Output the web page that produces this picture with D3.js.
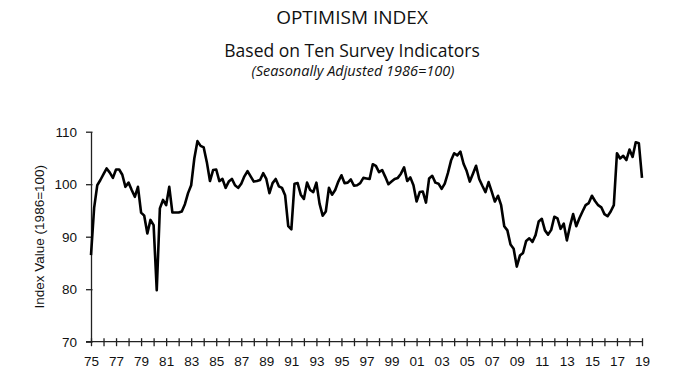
<!DOCTYPE html>
<html>
<head>
<meta charset="utf-8">
<script src="https://cdn.jsdelivr.net/npm/d3@7"></script>
<style>
  body { margin: 0; background: #fff; }
  .title { font-family: "Open Sans", sans-serif; fill: #111; }
  .axis text { font-family: "Liberation Sans", Arial, sans-serif; font-size: 13.5px; fill: #111; }
  .axis path, .axis line { stroke: #222; stroke-width: 1.3; }
</style>
</head>
<body>
<svg id="chart"></svg>
<script>
// quarterly values, first point is 1975 Q1, last is 2019 Q1
const startYear = 1975
const optimism = [
  86.5, 95.5, 99.8, 100.8,     // 1975
  101.9, 103.0, 102.2, 101.2,  // 1976
  102.8, 102.8, 101.8, 99.5,   // 1977
  100.3, 98.9, 97.6, 99.5,     // 1978
  94.6, 94.0, 90.6, 93.2,      // 1979
  92.2, 79.8, 95.4, 97.0,      // 1980
  96.0, 99.5, 94.6, 94.6,      // 1981
  94.6, 94.8, 96.2, 98.3,      // 1982
  99.8, 104.9, 108.2, 107.3,   // 1983
  107.0, 104.2, 100.6, 102.7,  // 1984
  102.8, 100.6, 101.0, 99.3,   // 1985
  100.5, 101.0, 99.8, 99.3,    // 1986
  100.1, 101.5, 102.5, 101.5,  // 1987
  100.5, 100.6, 100.8, 102.1,  // 1988
  101.0, 98.3, 100.2, 101.0,   // 1989
  99.6, 99.3, 97.9, 92.0,      // 1990
  91.4, 100.1, 100.2, 98.0,    // 1991
  97.2, 100.3, 98.9, 98.5,     // 1992
  100.3, 96.3, 94.0, 94.8,     // 1993
  99.3, 98.0, 98.9, 100.5,     // 1994
  101.7, 100.2, 100.3, 100.9,  // 1995
  99.7, 99.8, 100.2, 101.2,    // 1996
  101.1, 101.0, 103.8, 103.5,  // 1997
  102.3, 102.7, 101.4, 100.0,  // 1998
  100.5, 101.0, 101.2, 102.0,  // 1999
  103.2, 100.6, 101.3, 99.8,   // 2000
  96.7, 98.5, 98.6, 96.5,      // 2001
  101.1, 101.6, 100.3, 100.1,  // 2002
  99.1, 100.1, 102.1, 104.5,   // 2003
  105.9, 105.5, 106.2, 103.9,  // 2004
  102.5, 100.5, 102.0, 103.5,  // 2005
  101.0, 99.7, 98.5, 100.4,    // 2006
  98.6, 96.7, 97.8, 96.0,      // 2007
  92.0, 91.2, 88.5, 87.7,      // 2008
  84.3, 86.4, 86.9, 89.2,      // 2009
  89.7, 89.0, 90.3, 92.9,      // 2010
  93.4, 91.2, 90.4, 91.3,      // 2011
  93.8, 93.5, 91.5, 92.5,      // 2012
  89.3, 92.0, 94.3, 92.0,      // 2013
  93.5, 94.8, 96.0, 96.4,      // 2014
  97.8, 96.8, 96.0, 95.6,      // 2015
  94.3, 93.9, 94.8, 96.0,      // 2016
  105.9, 104.9, 105.4, 104.6,  // 2017
  106.6, 105.2, 108.0, 107.8,  // 2018
  101.2                        // 2019
]
const yearTicks = d3.range(1975, 2020)          // a tick every year
const yearLabels = d3.range(1975, 2020, 2)      // label every other year
const valueTicks = [70, 80, 90, 100, 110]

const width = 680
const height = 375

const svg = d3.select("#chart")
  .attr("width", width)
  .attr("height", height)

// titles
svg.append("text").attr("class", "title")
  .attr("x", 352).attr("y", 24)
  .attr("text-anchor", "middle")
  .style("font-size", "19px")
  .text("OPTIMISM INDEX")
svg.append("text").attr("class", "title")
  .attr("x", 352).attr("y", 57)
  .attr("text-anchor", "middle")
  .style("font-size", "17.5px")
  .text("Based on Ten Survey Indicators")
svg.append("text").attr("class", "title")
  .attr("x", 353).attr("y", 76)
  .attr("text-anchor", "middle")
  .style("font-size", "14.5px")
  .style("font-style", "italic")
  .text("(Seasonally Adjusted 1986=100)")

let xScale = d3.scaleLinear()
  .domain([1975, 2019])
  .range([91, 642])

let yScale = d3.scaleLinear()
  .domain([70, 110])
  .range([341.7, 131.7])

// x axis: ticks cross the line
let xAxis = svg.append("g")
  .attr("class", "axis")
  .attr("transform", "translate(0," + yScale(70) + ")")
  .call(d3.axisBottom(xScale)
    .tickValues(yearTicks)
    .tickSize(4)
    .tickSizeOuter(0)
    .tickFormat(d => yearLabels.includes(d) ? String(d).slice(2) : ""))
xAxis.select(".domain").attr("d", "M" + (xScale(1975) - 5) + ",0H" + xScale(2019))
xAxis.selectAll(".tick line").attr("y1", -3.5).attr("y2", 4.5)
xAxis.selectAll(".tick text").attr("y", 14.5)

// y axis
let yAxis = svg.append("g")
  .attr("class", "axis")
  .attr("transform", "translate(" + xScale(1975) + ",0)")
  .call(d3.axisLeft(yScale)
    .tickValues(valueTicks)
    .tickSize(5)
    .tickSizeOuter(0))
yAxis.selectAll(".tick line").attr("x1", 1.5)
yAxis.selectAll(".tick text").attr("x", -14)

svg.append("text")
  .attr("class", "axis")
  .attr("transform", "translate(44," + yScale(90) + ") rotate(-90)")
  .attr("text-anchor", "middle")
  .style("font-family", "'Liberation Sans', Arial, sans-serif")
  .style("font-size", "13.5px")
  .style("fill", "#111")
  .text("Index Value (1986=100)")

// the index line
let line = d3.line()
  .x((d, i) => xScale(startYear + i / 4))
  .y(d => yScale(d))

svg.append("path")
  .datum(optimism)
  .attr("d", line)
  .attr("fill", "none")
  .attr("stroke", "#000")
  .attr("stroke-width", 2.6)
  .attr("stroke-linejoin", "round")
</script>
</body>
</html>
